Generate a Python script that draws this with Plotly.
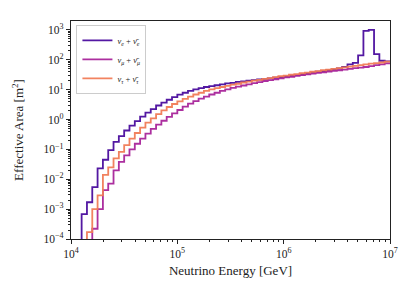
import numpy as np
import plotly.graph_objects as go

# Energy bin edges: 20 log-spaced bins per decade from 1e4 to 1e7 GeV
bin_edges = np.logspace(4, 7, 61)

# Effective area [m^2] per bin (None = empty bin)
area_nue = [None, None,
    6.8e-4, 1.7e-3, 5.5e-3, 2.3e-2, 4.5e-2, 9.5e-2, 0.18, 0.28, 0.43, 0.63,
    0.89, 1.26, 1.7, 2.24, 2.95, 3.7, 4.6, 5.6, 6.8, 7.9,
    9.1, 10.2, 11.2, 12.3, 13.2, 14.1, 15.1, 16.2, 17.0, 18.2,
    19.1, 20.0, 20.9, 21.9, 22.9, 24.0, 25.1, 26.3, 27.5, 28.8,
    30.9, 32.4, 34.7, 37.2, 39.8, 41.7, 44.7, 47.9, 51.3, 57.5,
    70.8, 79.4, 141, 933, 1000, 155, 93, 89]

area_numu = [None, None, None, None,
    2.2e-4, 1.0e-3, 4.3e-3, 7.1e-3, 2.0e-2, 3.8e-2, 6.3e-2, 0.10,
    0.155, 0.23, 0.34, 0.49, 0.68, 0.91, 1.23, 1.62, 2.09, 2.69,
    3.39, 4.17, 5.0, 5.9, 6.9, 7.9, 9.1, 10.2, 11.5, 12.6,
    13.8, 15.1, 16.6, 17.8, 19.5, 20.9, 22.4, 24.0, 25.7, 26.9,
    28.8, 30.9, 32.4, 34.7, 36.3, 38.0, 40.7, 42.7, 44.7, 46.8,
    50.1, 52.5, 55.0, 57.5, 61.7, 66.1, 70.8, 75.9]

area_nutau = [None, None, None,
    1.7e-4, 1.0e-3, 2.9e-3, 1.4e-2, 2.5e-2, 5.0e-2, 8.3e-2, 0.14, 0.23,
    0.355, 0.54, 0.79, 1.10, 1.51, 2.04, 2.63, 3.31, 4.07, 4.9,
    5.9, 6.9, 7.9, 9.1, 10.2, 11.2, 12.3, 13.5, 14.8, 15.8,
    17.4, 18.6, 20.0, 21.4, 22.9, 24.5, 26.3, 28.2, 29.5, 31.6,
    33.1, 35.5, 37.2, 39.8, 41.7, 44.7, 46.8, 50.1, 52.5, 56.2,
    58.9, 63.1, 66.1, 70.8, 74.1, 77.6, 81.3, 87.1]

series_names = ["<i>ν<sub>e</sub></i> + <i>ν̄<sub>e</sub></i>",
                "<i>ν<sub>μ</sub></i> + <i>ν̄<sub>μ</sub></i>",
                "<i>ν<sub>τ</sub></i> + <i>ν̄<sub>τ</sub></i>"]
series_colors = ["#4a0c9e", "#a8249a", "#f17c57"]
series_values = [area_nue, area_numu, area_nutau]

# Tick positions / labels (decades)
x_tick_exps = [4, 5, 6, 7]
y_tick_exps = [-4, -3, -2, -1, 0, 1, 2, 3]


def power_label(e):
    s = str(e).replace("-", "\u2212")
    return "10<sup>" + s + "</sup>"


def step_xy(edges, values):
    first = next(i for i, v in enumerate(values) if v is not None)
    xs = [edges[first]]
    ys = [1e-9]
    for i in range(first, len(values)):
        xs.append(edges[i])
        ys.append(values[i])
    xs.append(edges[len(values)])
    ys.append(values[-1])
    return xs, ys


fig = go.Figure()
for name, color, vals in zip(series_names, series_colors, series_values):
    xs, ys = step_xy(bin_edges, vals)
    fig.add_trace(go.Scatter(x=xs, y=ys, mode="lines", name=name,
                             line=dict(color=color, width=1.8, shape="hv"),
                             opacity=0.95))

font_family = "Liberation Serif"
ink = "#222222"
axis_common = dict(
    type="log", showgrid=False, zeroline=False, automargin=False,
    showline=True, linecolor=ink, linewidth=1.2, mirror=True,
    ticks="outside", ticklen=4, tickwidth=1, tickcolor=ink,
    minor=dict(ticks="outside", ticklen=2, tickwidth=0.8, tickcolor=ink,
               dtick="D1", showgrid=False),
    tickfont=dict(family=font_family, size=11.5, color=ink),
)

fig.update_xaxes(range=[4, 7],
                 tickmode="array",
                 tickvals=[10.0 ** e for e in x_tick_exps],
                 ticktext=[power_label(e) for e in x_tick_exps],
                 title=dict(text="Neutrino Energy [GeV]", standoff=6,
                            font=dict(family=font_family, size=13, color=ink)),
                 **axis_common)
fig.update_yaxes(range=[-4, 3.3],
                 tickmode="array",
                 tickvals=[10.0 ** e for e in y_tick_exps],
                 ticktext=[power_label(e) for e in y_tick_exps],
                 title=dict(text="Effective Area [m<sup>2</sup>]", standoff=16,
                            font=dict(family=font_family, size=13, color=ink)),
                 **axis_common)

fig.update_layout(
    width=415, height=297,
    margin=dict(l=71, r=25, t=21, b=58),
    paper_bgcolor="white", plot_bgcolor="white",
    showlegend=True,
    legend=dict(x=0.017, y=0.982, xanchor="left", yanchor="top",
                bgcolor="rgba(255,255,255,0.9)", bordercolor="#cccccc",
                borderwidth=1, font=dict(family=font_family, size=8.5, color=ink),
                itemwidth=30, tracegroupgap=0),
)

fig.write_html("out.html",
               config={"displayModeBar": False},
               post_script="document.body.style.margin='0px';document.body.style.padding='0px';")
